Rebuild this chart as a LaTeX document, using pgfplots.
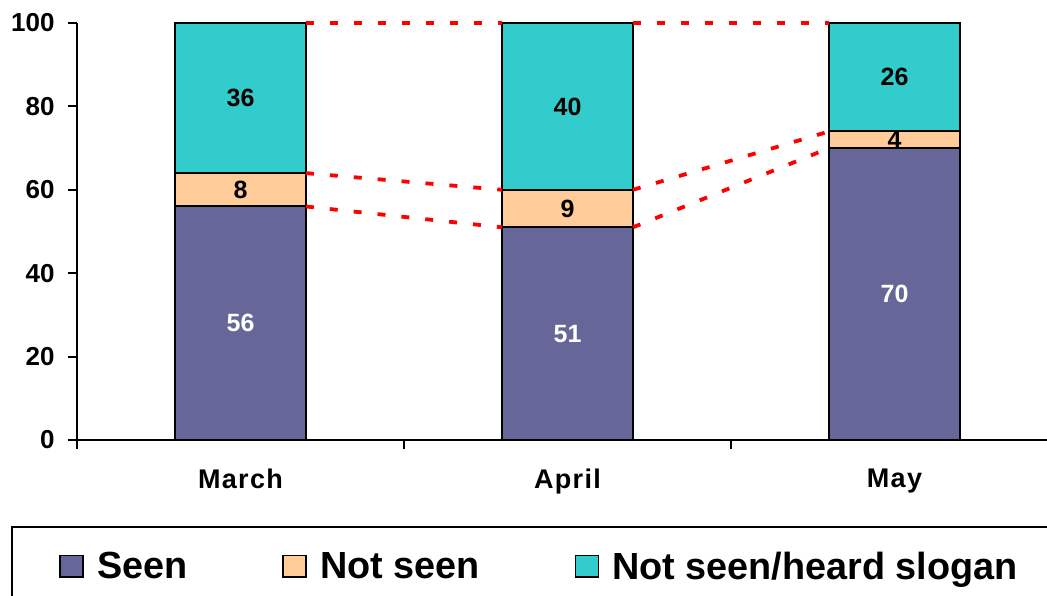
\documentclass[border=0pt]{standalone}
\usepackage{pgfplots}
\usepackage{pgfplotstable}
\pgfplotsset{compat=1.18}
\usepackage{fontspec}
\setmainfont{Liberation Sans}
\definecolor{cSeen}{HTML}{666699}
\definecolor{cNot}{HTML}{FFCC99}
\definecolor{cSlog}{HTML}{33CCCC}
\pgfplotstableread{
x seen notseen slogan
0 56 8 36
1 51 9 40
2 70 4 26
}\data
\pgfplotstableread{
x lseen lnot lslog
0.2 56 64 100
0.8 51 60 100
1.0 nan nan nan
1.2 51 60 100
1.8 70 74 100
}\lines
\pgfplotsset{
  base/.style={scale only axis, width=490.5pt, height=208.5pt,
    xmin=-0.5, xmax=2.5, ymin=0, ymax=100,
    at={(0pt,0pt)}, anchor=south west, clip=false},
  lbl/.style={draw=none, mark=none, nodes near coords, point meta=explicit symbolic,
    nodes near coords style={anchor=center, inner sep=0pt, font=\fontsize{12.5}{14}\selectfont\bfseries}},
}
\begin{document}
\begin{tikzpicture}
\begin{axis}[base,
  ybar stacked, bar width=0.4,
  axis x line*=bottom, axis y line*=left,
  axis line style={line width=1pt, black},
  tick align=outside, major tick length=4.5pt,
  every tick/.style={black, line width=1pt},
  xtick={-0.5,0.5,1.5}, xticklabels={},
  extra x ticks={0,1,2}, extra x tick labels={March,April,May},
  extra x tick style={major tick length=0pt,
    tick label style={anchor=north, inner sep=0pt, yshift=-14.5pt,
      font=\fontsize{13.5}{15}\selectfont\bfseries\addfontfeature{LetterSpace=5}}},
  ytick={0,20,40,60,80,100},
  yticklabel style={anchor=east, inner sep=0pt, xshift=-6.5pt,
    font=\fontsize{13}{15}\selectfont\bfseries},
  /pgf/number format/assume math mode=true,
  legend columns=3,
  legend style={draw=none, fill=none, inner sep=0pt,
    at={(axis description cs:-0.0183,-0.305)}, anchor=west,
    font=\fontsize{18.9}{22}\selectfont\bfseries,
    nodes={inner sep=0pt},
    cells={anchor=west},
    /tikz/every odd column/.append style={column sep=6.5pt},
    /tikz/every even column/.append style={column sep=47.5pt}},
  legend image code/.code={\draw[#1, line width=0.8pt] (0pt,-5pt) rectangle (11.5pt,5.75pt);},
]
\addplot[fill=cSeen, draw=black, line width=1pt] table[x=x, y=seen] {\data};
\addlegendentry{Seen}
\addplot[fill=cNot, draw=black, line width=1pt] table[x=x, y=notseen] {\data};
\addlegendentry{Not seen}
\addplot[fill=cSlog, draw=black, line width=1pt] table[x=x, y=slogan] {\data};
\addlegendentry{Not seen/heard slogan}
\end{axis}
\begin{axis}[base, hide axis, unbounded coords=jump]
\addplot[red, line width=1.9pt, dash pattern=on 4pt off 8pt] table[x=x, y=lseen] {\lines};
\addplot[red, line width=1.9pt, dash pattern=on 4pt off 8pt] table[x=x, y=lnot] {\lines};
\addplot[red, line width=1.9pt, dash pattern=on 4pt off 8pt] table[x=x, y=lslog] {\lines};
\addplot[lbl, nodes near coords style={text=white}] table[x=x, y expr=\thisrow{seen}/2, meta=seen] {\data};
\addplot[lbl] table[x=x, y expr=\thisrow{seen}+\thisrow{notseen}/2, meta=notseen] {\data};
\addplot[lbl] table[x=x, y expr=\thisrow{seen}+\thisrow{notseen}+\thisrow{slogan}/2, meta=slogan] {\data};
\end{axis}
\draw[line width=1pt] (-32.5pt,-100pt) -- (-32.5pt,-43.5pt) -- (520pt,-43.5pt);
\pgfresetboundingbox
\useasboundingbox (-38.5pt,-77.5pt) rectangle (485pt,220pt);
\end{tikzpicture}
\end{document}
